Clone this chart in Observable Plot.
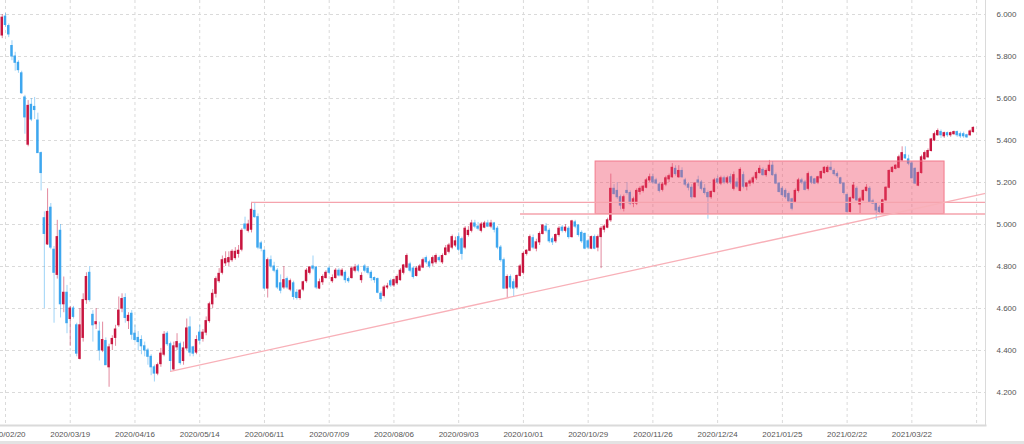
<!DOCTYPE html>
<html><head><meta charset="utf-8">
<script src="https://cdn.jsdelivr.net/npm/d3@7"></script>
<script src="https://cdn.jsdelivr.net/npm/@observablehq/plot@0.6"></script>
<style>html,body{margin:0;padding:0;background:#fff;overflow:hidden}</style>
</head><body><div id="chart"></div>
<script>
// daily candles [open, high, low, close], trading-day index 0.. (2020/02/19 .. 2021/04)
const ohlc = [
[5.90,6.00,5.885,5.985],[5.99,6.005,5.94,5.95],[5.945,5.955,5.89,5.905],[5.85,5.875,5.78,5.80],[5.80,5.82,5.73,5.77],
[5.77,5.78,5.72,5.735],[5.72,5.73,5.62,5.625],[5.605,5.615,5.43,5.51],[5.38,5.59,5.37,5.565],[5.57,5.60,5.49,5.50],
[5.56,5.605,5.50,5.545],[5.495,5.53,5.34,5.34],[5.34,5.345,5.16,5.245],[5.03,5.06,4.60,4.955],[4.905,5.17,4.90,5.06],
[5.08,5.10,4.88,4.89],[4.88,4.895,4.53,4.77],[4.76,5.02,4.74,4.94],[4.97,5.00,4.555,4.62],[4.62,4.75,4.58,4.675],
[4.675,4.71,4.48,4.53],[4.55,4.61,4.42,4.60],[4.60,4.61,4.55,4.56],[4.52,4.53,4.37,4.385],[4.36,4.60,4.355,4.52],
[4.46,4.67,4.44,4.64],[4.64,4.77,4.62,4.75],[4.77,4.80,4.63,4.64],[4.57,4.59,4.44,4.52],[4.525,4.60,4.50,4.535],
[4.49,4.535,4.35,4.40],[4.40,4.535,4.39,4.45],[4.445,4.46,4.33,4.33],[4.32,4.43,4.225,4.415],[4.43,4.47,4.40,4.455],
[4.46,4.52,4.42,4.50],[4.52,4.655,4.51,4.59],[4.60,4.67,4.58,4.645],[4.65,4.67,4.53,4.555],[4.54,4.58,4.50,4.565],
[4.575,4.59,4.45,4.475],[4.48,4.52,4.44,4.45],[4.46,4.49,4.40,4.44],[4.45,4.47,4.38,4.42],[4.42,4.44,4.37,4.40],
[4.40,4.41,4.33,4.37],[4.37,4.38,4.28,4.32],[4.32,4.33,4.25,4.29],[4.29,4.34,4.28,4.33],[4.335,4.41,4.32,4.385],
[4.38,4.49,4.37,4.475],[4.48,4.49,4.42,4.43],[4.43,4.44,4.30,4.35],[4.31,4.44,4.30,4.42],[4.415,4.48,4.40,4.44],
[4.43,4.44,4.33,4.34],[4.35,4.44,4.33,4.41],[4.41,4.55,4.40,4.505],[4.51,4.56,4.37,4.39],[4.415,4.42,4.37,4.385],
[4.39,4.47,4.38,4.45],[4.485,4.52,4.43,4.447],[4.455,4.50,4.44,4.485],[4.485,4.56,4.47,4.54],[4.54,4.63,4.53,4.62],
[4.62,4.69,4.60,4.67],[4.67,4.75,4.65,4.74],[4.73,4.79,4.72,4.765],[4.77,4.85,4.76,4.83],[4.815,4.87,4.80,4.835],
[4.82,4.87,4.80,4.84],[4.83,4.88,4.82,4.87],[4.84,4.89,4.83,4.87],[4.86,4.90,4.84,4.875],[4.88,4.98,4.87,4.97],
[5.00,5.035,4.97,4.98],[4.97,5.02,4.96,5.00],[4.975,5.105,4.96,5.07],[5.065,5.105,5.03,5.035],[5.035,5.05,4.88,4.89],
[4.91,4.92,4.87,4.885],[4.875,4.88,4.69,4.695],[4.695,4.84,4.65,4.83],[4.83,4.85,4.79,4.80],[4.80,4.82,4.77,4.78],
[4.78,4.79,4.69,4.70],[4.72,4.76,4.67,4.685],[4.70,4.80,4.69,4.735],[4.74,4.75,4.69,4.70],[4.69,4.74,4.68,4.73],
[4.72,4.73,4.64,4.655],[4.675,4.69,4.64,4.65],[4.65,4.69,4.64,4.685],[4.69,4.73,4.68,4.725],[4.73,4.79,4.72,4.78],
[4.77,4.80,4.76,4.795],[4.80,4.85,4.78,4.79],[4.795,4.80,4.69,4.70],[4.695,4.74,4.69,4.725],[4.725,4.76,4.71,4.75],
[4.745,4.78,4.74,4.77],[4.79,4.80,4.76,4.77],[4.73,4.76,4.72,4.745],[4.745,4.79,4.74,4.78],[4.78,4.79,4.75,4.757],
[4.757,4.79,4.75,4.78],[4.77,4.78,4.72,4.735],[4.74,4.75,4.72,4.73],[4.745,4.80,4.74,4.79],[4.78,4.81,4.77,4.795],
[4.80,4.81,4.77,4.78],[4.735,4.77,4.72,4.755],[4.80,4.81,4.77,4.78],[4.79,4.80,4.76,4.77],[4.77,4.78,4.73,4.745],
[4.745,4.75,4.72,4.735],[4.74,4.745,4.67,4.675],[4.67,4.68,4.63,4.645],[4.66,4.71,4.65,4.70],[4.70,4.72,4.69,4.705],
[4.73,4.74,4.70,4.71],[4.71,4.74,4.70,4.735],[4.72,4.76,4.71,4.75],[4.735,4.79,4.73,4.78],[4.77,4.81,4.76,4.805],
[4.795,4.86,4.79,4.85],[4.81,4.82,4.77,4.78],[4.79,4.80,4.74,4.75],[4.755,4.80,4.75,4.79],[4.78,4.81,4.775,4.80],
[4.795,4.84,4.79,4.83],[4.84,4.85,4.81,4.82],[4.82,4.83,4.79,4.80],[4.815,4.85,4.80,4.84],[4.82,4.86,4.81,4.85],
[4.84,4.85,4.82,4.83],[4.82,4.86,4.81,4.85],[4.855,4.90,4.85,4.886],[4.87,4.91,4.86,4.90],[4.89,4.95,4.88,4.94],
[4.90,4.94,4.89,4.92],[4.94,4.96,4.87,4.88],[4.93,4.94,4.83,4.86],[4.89,4.99,4.88,4.98],[4.95,4.99,4.94,4.97],
[4.97,5.02,4.96,5.005],[5.005,5.02,4.98,4.99],[4.99,5.01,4.97,4.98],[4.97,5.01,4.96,5.00],[4.985,5.015,4.98,5.005],
[5.005,5.02,4.985,4.99],[4.99,5.02,4.98,5.005],[5.005,5.01,4.96,4.975],[4.98,4.99,4.88,4.89],[4.89,4.90,4.82,4.83],
[4.83,4.84,4.69,4.695],[4.695,4.76,4.65,4.75],[4.75,4.76,4.69,4.70],[4.725,4.74,4.655,4.695],[4.70,4.76,4.69,4.755],
[4.755,4.81,4.75,4.80],[4.77,4.87,4.76,4.86],[4.86,4.88,4.85,4.875],[4.875,4.95,4.87,4.94],[4.935,4.95,4.88,4.89],
[4.885,4.93,4.87,4.915],[4.915,4.965,4.90,4.955],[4.955,5.00,4.95,4.995],[4.99,5.005,4.96,4.97],[4.97,4.98,4.91,4.92],
[4.93,4.94,4.90,4.915],[4.92,4.955,4.91,4.95],[4.95,4.99,4.94,4.98],[4.985,4.995,4.96,4.97],[4.97,5.00,4.96,4.985],
[4.98,4.99,4.93,4.94],[4.94,5.02,4.935,5.015],[5.01,5.02,4.98,4.99],[4.995,5.00,4.94,4.95],[4.96,4.97,4.91,4.92],
[4.955,4.96,4.88,4.885],[4.92,4.93,4.88,4.89],[4.885,4.945,4.88,4.94],[4.94,4.95,4.88,4.885],[4.89,4.95,4.87,4.94],
[4.94,4.99,4.79,4.98],[4.975,5.00,4.96,4.99],[4.985,5.03,4.98,5.02],[5.02,5.24,5.01,5.17],[5.17,5.19,5.14,5.145],
[5.16,5.20,5.12,5.13],[5.13,5.14,5.07,5.09],[5.075,5.14,5.06,5.13],[5.16,5.20,5.14,5.15],[5.15,5.16,5.09,5.10],
[5.10,5.13,5.08,5.12],[5.10,5.17,5.09,5.16],[5.155,5.18,5.14,5.17],[5.16,5.185,5.15,5.18],[5.175,5.22,5.17,5.21],
[5.21,5.24,5.20,5.225],[5.225,5.24,5.19,5.20],[5.21,5.22,5.19,5.195],[5.19,5.20,5.15,5.16],[5.165,5.20,5.155,5.19],
[5.19,5.23,5.18,5.22],[5.215,5.24,5.20,5.23],[5.225,5.29,5.22,5.27],[5.265,5.28,5.23,5.24],[5.225,5.28,5.22,5.255],
[5.255,5.27,5.22,5.225],[5.21,5.22,5.18,5.19],[5.19,5.20,5.16,5.175],[5.175,5.19,5.12,5.13],[5.13,5.20,5.125,5.195],
[5.21,5.23,5.18,5.20],[5.20,5.21,5.16,5.17],[5.17,5.19,5.14,5.15],[5.15,5.16,5.025,5.13],[5.13,5.16,5.12,5.155],
[5.155,5.22,5.15,5.21],[5.215,5.23,5.19,5.20],[5.195,5.23,5.185,5.22],[5.22,5.23,5.19,5.20],[5.20,5.23,5.19,5.22],
[5.225,5.24,5.19,5.20],[5.17,5.25,5.16,5.235],[5.20,5.22,5.17,5.18],[5.16,5.27,5.155,5.26],[5.235,5.25,5.17,5.18],
[5.18,5.20,5.16,5.195],[5.195,5.215,5.18,5.205],[5.20,5.23,5.19,5.22],[5.22,5.255,5.21,5.245],[5.245,5.28,5.24,5.265],
[5.26,5.27,5.23,5.235],[5.235,5.265,5.225,5.255],[5.255,5.305,5.25,5.28],[5.28,5.30,5.23,5.235],[5.235,5.245,5.19,5.195],
[5.195,5.20,5.15,5.155],[5.17,5.18,5.13,5.14],[5.16,5.17,5.12,5.13],[5.145,5.155,5.10,5.11],[5.12,5.125,5.065,5.075],
[5.105,5.17,5.10,5.16],[5.16,5.22,5.15,5.21],[5.21,5.22,5.19,5.20],[5.20,5.21,5.16,5.165],[5.17,5.25,5.16,5.24],
[5.225,5.23,5.19,5.20],[5.215,5.22,5.19,5.195],[5.20,5.23,5.19,5.225],[5.22,5.255,5.215,5.25],[5.245,5.275,5.24,5.27],
[5.25,5.28,5.245,5.27],[5.27,5.30,5.255,5.26],[5.255,5.265,5.23,5.24],[5.24,5.25,5.22,5.23],[5.22,5.225,5.19,5.195],
[5.195,5.20,5.14,5.15],[5.14,5.145,5.055,5.06],[5.06,5.13,5.055,5.125],[5.125,5.20,5.12,5.185],[5.17,5.18,5.11,5.115],
[5.095,5.13,5.05,5.12],[5.115,5.165,5.11,5.16],[5.16,5.19,5.155,5.175],[5.17,5.18,5.10,5.105],[5.11,5.12,5.095,5.10],
[5.10,5.105,5.02,5.067],[5.08,5.09,5.05,5.06],[5.057,5.12,5.05,5.115],[5.115,5.18,5.11,5.175],[5.175,5.26,5.17,5.255],
[5.25,5.275,5.245,5.27],[5.265,5.285,5.26,5.28],[5.27,5.33,5.265,5.32],[5.305,5.37,5.30,5.34],[5.33,5.37,5.31,5.315],
[5.31,5.33,5.28,5.29],[5.29,5.30,5.22,5.22],[5.265,5.27,5.19,5.195],[5.185,5.25,5.18,5.245],[5.245,5.33,5.24,5.32],
[5.31,5.35,5.305,5.34],[5.32,5.36,5.315,5.35],[5.35,5.41,5.345,5.405],[5.40,5.44,5.395,5.43],[5.425,5.455,5.42,5.445],
[5.44,5.45,5.41,5.425],[5.42,5.44,5.41,5.435],[5.435,5.44,5.415,5.425],[5.425,5.44,5.415,5.435],[5.43,5.445,5.425,5.44],
[5.44,5.445,5.415,5.425],[5.43,5.44,5.41,5.42],[5.43,5.44,5.41,5.42],[5.425,5.43,5.41,5.415],[5.425,5.45,5.42,5.443],
[5.44,5.465,5.435,5.46]
];

// x-axis: tick every 20 trading days
const xTickIndex = [1,21,41,61,81,101,121,141,161,181,201,221,241,261,281,301];
const xTickLabels = ["2020/02/20","2020/03/19","2020/04/16","2020/05/14","2020/06/11","2020/07/09","2020/08/06",
  "2020/09/03","2020/10/01","2020/10/29","2020/11/26","2020/12/24","2021/01/25","2021/02/22","2021/03/22",""];
const yTicks = [4.2,4.4,4.6,4.8,5.0,5.2,5.4,5.6,5.8,6.0];

// drawn annotations (index, price)
const rangeBox = [{from:183.3, to:291.1, low:5.05, high:5.30}];
const hLevels = [{from:77, to:303.75, price:5.105}, {from:160.1, to:303.75, price:5.05}];
const trendLine = [{i:52, price:4.301}, {i:303.75, price:5.148}];

const UP = "#c8153f", DOWN = "#3ea7ef";
const candles = ohlc.map(([o,h,l,c],i)=>({i,o,h,l,c,col: c>=o ? UP : DOWN}));
const labelOf = new Map(xTickIndex.map((d,k)=>[d,xTickLabels[k]]));

const chart = Plot.plot({
  width:1024, height:444,
  marginLeft:0, marginRight:39, marginTop:0, marginBottom:19,
  style:{fontFamily:"'Liberation Sans', Arial, sans-serif", fontSize:"8px", color:"#555",
    background:"linear-gradient(to bottom, #ffffff 0px, #ffffff 441px, #e3e3e3 441px)"},
  x:{type:"linear", domain:[-0.545,303.75]},
  y:{domain:[4.0429,6.0667]},
  color:{type:"identity"},
  marks:[
    Plot.ruleY(yTicks,{stroke:"#dadada", strokeDasharray:"3,3"}),
    Plot.ruleX(xTickIndex,{stroke:"#dadada", strokeDasharray:"3,3"}),
    Plot.ruleX(candles,{x:"i", y1:"l", y2:"h", stroke:"col", strokeOpacity:0.5, strokeWidth:1}),
    Plot.rect(candles,{x1:d=>d.i-0.38, x2:d=>d.i+0.38, y1:"o", y2:"c", fill:"col", insetTop:-0.5, insetBottom:-0.5}),
    Plot.rect(rangeBox,{x1:"from", x2:"to", y1:"low", y2:"high", fill:"#f04a66", fillOpacity:0.42, stroke:"#f27a8c", strokeWidth:1}),
    Plot.ruleY(hLevels,{y:"price", x1:"from", x2:"to", stroke:"#f5a3ad", strokeWidth:1.3}),
    Plot.line(trendLine,{x:"i", y:"price", stroke:"#f8b0b8", strokeWidth:1.3}),
    Plot.axisY(yTicks,{anchor:"right", tickSize:0, tickPadding:11, tickFormat:d3.format(".3f"), fill:"#555"}),
    Plot.axisX(xTickIndex,{anchor:"bottom", tickSize:0, tickPadding:6, tickFormat:d=>labelOf.get(d), fill:"#555"}),
    Plot.frame({anchor:"bottom", stroke:"#dadada", strokeWidth:2}),
    Plot.frame({anchor:"right", stroke:"#dadada", strokeWidth:1})
  ]
});
document.getElementById("chart").appendChild(chart);
</script>
</body></html>
